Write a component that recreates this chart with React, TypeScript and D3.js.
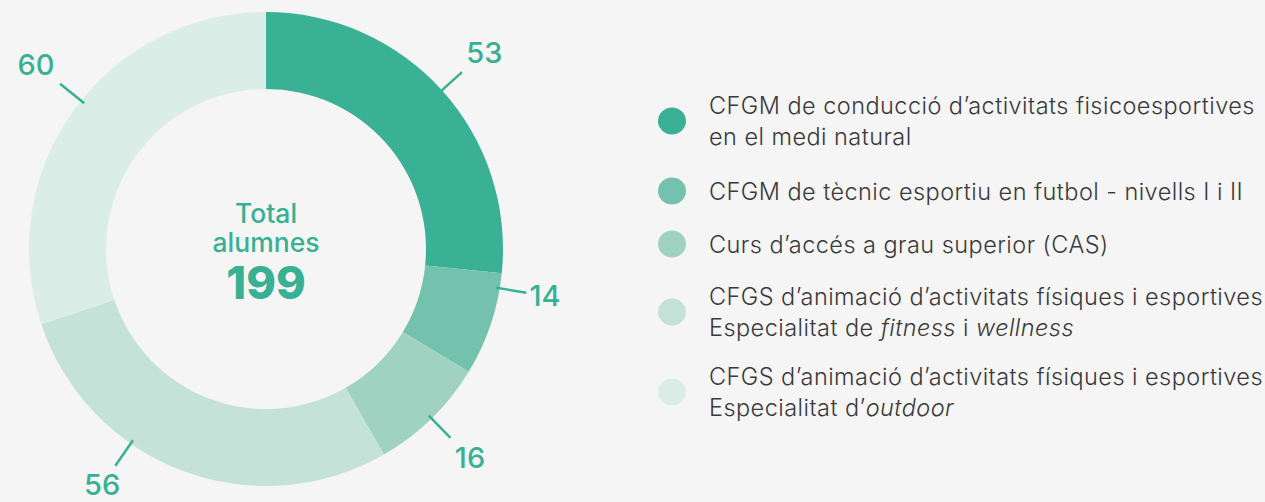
import React from "react";
import * as d3 from "d3";

const values = [53, 14, 16, 56, 60];
const colors = ["#3ab094", "#74c2ad", "#a0d2c2", "#c5e2d8", "#dbede7"];
// label layout nudges (angle in degrees, distance from centre) as in the reference
const labelShift = [0, -9, 0, 14, 3];
const labelRadius = [294, 283, 292, 287, 295];
const legendLines: { t: string; i?: boolean }[][][] = [
  [[{ t: "CFGM de conducció d’activitats fisicoesportives" }], [{ t: "en el medi natural" }]],
  [[{ t: "CFGM de tècnic esportiu en futbol - nivells I i II" }]],
  [[{ t: "Curs d’accés a grau superior (CAS)" }]],
  [
    [{ t: "CFGS d’animació d’activitats físiques i esportives" }],
    [{ t: "Especialitat de " }, { t: "fitness", i: true }, { t: " i " }, { t: "wellness", i: true }],
  ],
  [
    [{ t: "CFGS d’animació d’activitats físiques i esportives" }],
    [{ t: "Especialitat d’" }, { t: "outdoor", i: true }],
  ],
];
const legendY = [121, 191, 244, 312, 392];
const totalLabel = ["Total", "alumnes"];

export default function App() {
  const W = 1265, H = 502;
  const cx = 266, cy = 249, rOuter = 237, rInner = 160;
  const total = d3.sum(values);
  const pie = d3.pie<number>().sort(null).value((d) => d);
  const arcs = pie(values);
  const arc = d3.arc<d3.PieArcDatum<number>>().innerRadius(rInner).outerRadius(rOuter);
  const green = "#38b093";
  const font = "Inter, 'Noto Sans', sans-serif";
  const lfont = "Inter, 'Noto Sans', sans-serif";
  const lineH = 30.5;
  return (
    <svg width={W} height={H} style={{ position: "absolute", left: 0, top: 0, display: "block" }}>
      <rect width={W} height={H} fill="#f5f5f5" />
      <g transform={`translate(${cx},${cy})`}>
        {arcs.map((a, k) => (
          <path key={k} d={arc(a) || ""} fill={colors[k]} />
        ))}
        {arcs.map((a, k) => {
          const ang = (a.startAngle + a.endAngle) / 2 + (labelShift[k] * Math.PI) / 180;
          const s = Math.sin(ang), c = -Math.cos(ang);
          const r = labelRadius[k];
          return (
            <g key={k}>
              <line x1={s * 233} y1={c * 233} x2={s * 264} y2={c * 264} stroke={green} strokeWidth={2.5} />
              <text
                x={s * r}
                y={c * r}
                dy={10.5}
                textAnchor="middle"
                fill={green}
                fontFamily={font}
                fontWeight={500}
                fontSize={29}
              >
                {values[k]}
              </text>
            </g>
          );
        })}
        <text x={0} y={-26} textAnchor="middle" fill={green} fontFamily={font} fontWeight={500} fontSize={26.5}>
          {totalLabel[0]}
        </text>
        <text x={0} y={3} textAnchor="middle" fill={green} fontFamily={font} fontWeight={500} fontSize={26.5}>
          {totalLabel[1]}
        </text>
        <text x={0} y={50} textAnchor="middle" fill={green} fontFamily={font} fontWeight={800} fontSize={45}>
          {total}
        </text>
      </g>
      {legendLines.map((lines, k) => {
        const n = lines.length;
        const y0 = legendY[k] - ((n - 1) * lineH) / 2 + 8.5;
        return (
          <g key={k}>
            <ellipse cx={672} cy={legendY[k]} rx={14} ry={13.5} fill={colors[k]} />
            {lines.map((segs, j) => (
              <text
                key={j}
                x={709}
                y={y0 + j * lineH}
                fill="#3a3a3a"
                fontFamily={lfont}
                fontWeight={300}
                fontSize={23.5}
                letterSpacing={0.45}
              >
                {segs.map((sg, m) => (
                  <tspan key={m} fontStyle={sg.i ? "italic" : "normal"}>
                    {sg.t}
                  </tspan>
                ))}
              </text>
            ))}
          </g>
        );
      })}
    </svg>
  );
}
